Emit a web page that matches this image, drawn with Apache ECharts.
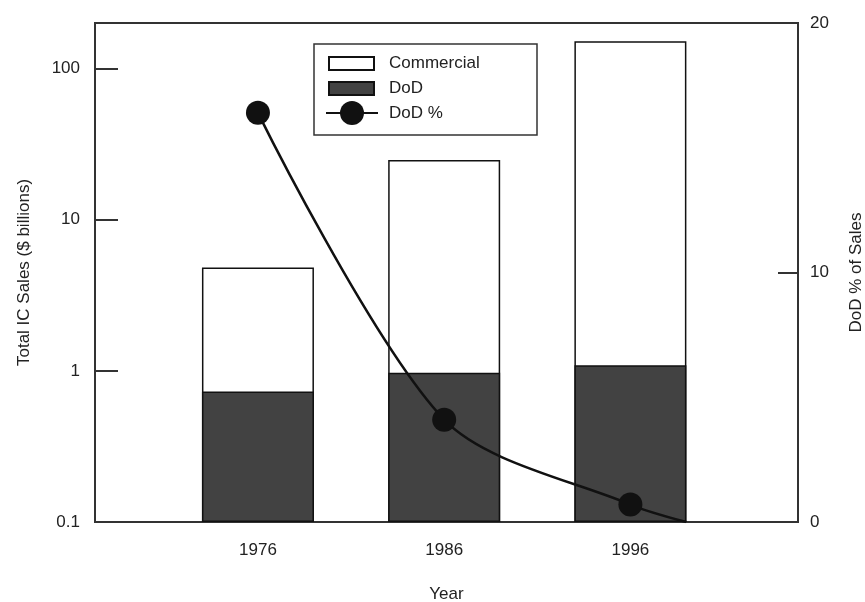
<!DOCTYPE html>
<html>
<head>
<meta charset="utf-8">
<script src="https://cdn.jsdelivr.net/npm/echarts@6/dist/echarts.min.js"></script>
<style>
  html, body { margin: 0; padding: 0; background: #fff; }
  #chart { width: 865px; height: 602px; }
</style>
</head>
<body>
<div id="chart"></div>
<script>
// Integrated-circuit sales, split into defence (DoD) and commercial parts ($ billions)
const years = [1976, 1986, 1996];
const dodSales = [0.73, 0.97, 1.09];
const commercialSales = [4.1, 23.8, 150.6];

// DoD share of total sales (%), the curve runs on past the last survey year down to zero
const shareYears = [1976, 1986, 1996, 1999];
const dodShare = [16.4, 4.1, 0.7, 0];
const shareMarkers = [true, true, true, false];

const xLabelValues = [1976, 1986, 1996];
const yLeftTicks = [0.1, 1, 10, 100];

const FONT = '"Liberation Sans", Arial, Helvetica, sans-serif';
const INK = '#222';
const AXIS = '#333';

const chart = echarts.init(document.getElementById('chart'));

// The white bar spans the whole total; the DoD part is painted over its lower end.
const totals = years.map((y, i) => [y, dodSales[i] + commercialSales[i]]);
const dodBars = years.map((y, i) => [y, dodSales[i]]);

chart.setOption({
  animation: false,
  backgroundColor: '#fff',
  textStyle: { fontFamily: FONT, color: INK },
  grid: {
    left: 95, right: 67, top: 23, bottom: 80,
    outerBoundsMode: 'none',
    containLabel: false,
    show: true, borderColor: AXIS, borderWidth: 2, backgroundColor: 'transparent'
  },
  graphic: [{
    type: 'rect',
    z: 5,
    shape: { x: 314, y: 44, width: 223, height: 91 },
    style: { fill: '#fff', stroke: AXIS, lineWidth: 1.5 }
  }],
  legend: [{
    data: [{ name: 'Commercial', icon: 'rect' }, { name: 'DoD', icon: 'rect' }],
    orient: 'vertical',
    left: 328, top: 55,
    padding: 0,
    itemWidth: 45, itemHeight: 13, itemGap: 8,
    z: 10,
    textStyle: { fontFamily: FONT, fontSize: 17, color: INK, padding: [0, 0, 0, 10] }
  }, {
    data: ['DoD %'],
    orient: 'vertical',
    left: 325, top: 101,
    padding: 0,
    itemWidth: 52, itemHeight: 30,
    z: 10,
    textStyle: { fontFamily: FONT, fontSize: 17, color: INK, padding: [0, 0, 0, 6] }
  }],
  xAxis: {
    type: 'value',
    min: 1967.25, max: 2005,
    name: 'Year',
    nameLocation: 'middle',
    nameGap: 64,
    nameTextStyle: { fontFamily: FONT, fontSize: 17, color: INK },
    axisLine: { show: true, lineStyle: { color: AXIS, width: 2 } },
    axisTick: { show: false },
    splitLine: { show: false },
    axisLabel: {
      customValues: xLabelValues,
      margin: 20,
      fontFamily: FONT, fontSize: 17, color: INK,
      formatter: v => String(v)
    }
  },
  yAxis: [{
    type: 'log',
    logBase: 10,
    min: 0.1, max: 200,
    startValue: 0.1,
    name: 'Total IC Sales ($ billions)',
    nameLocation: 'middle',
    nameRotate: 90,
    nameGap: 62,
    nameTextStyle: { fontFamily: FONT, fontSize: 17, color: INK },
    axisLine: { show: true, lineStyle: { color: AXIS, width: 2 } },
    axisTick: { show: true, inside: true, length: 23, lineStyle: { color: AXIS, width: 2 } },
    minorTick: { show: false },
    splitLine: { show: false },
    axisLabel: {
      margin: 15, fontFamily: FONT, fontSize: 17, color: INK,
      formatter: v => {
        const t = yLeftTicks.find(k => Math.abs(k - v) / k < 1e-6);
        return t === undefined ? '' : String(t);
      }
    }
  }, {
    type: 'value',
    min: 0, max: 20, interval: 10,
    position: 'right',
    name: 'DoD % of Sales',
    nameLocation: 'middle',
    nameRotate: 90,
    nameGap: 50,
    nameTextStyle: { fontFamily: FONT, fontSize: 17, color: INK },
    axisLine: { show: true, lineStyle: { color: AXIS, width: 2 } },
    axisTick: { show: true, inside: true, length: 20, lineStyle: { color: AXIS, width: 2 } },
    splitLine: { show: false },
    axisLabel: { margin: 12, fontFamily: FONT, fontSize: 17, color: INK }
  }],
  series: [{
    name: 'Commercial',
    type: 'bar',
    barWidth: 112,
    barGap: '-100%',
    data: totals,
    itemStyle: { color: '#fff', borderColor: '#111', borderWidth: 1.5 },
    z: 2
  }, {
    name: 'DoD',
    type: 'bar',
    barWidth: 112,
    barGap: '-100%',
    data: dodBars,
    itemStyle: { color: '#424242', borderColor: '#111', borderWidth: 1.5 },
    z: 3
  }, {
    name: 'DoD %',
    type: 'line',
    yAxisIndex: 1,
    smooth: 0.3,
    symbol: 'circle',
    symbolSize: 24,
    data: shareYears.map((x, i) => ({
      value: [x, dodShare[i]],
      symbol: shareMarkers[i] ? 'circle' : 'none'
    })),
    lineStyle: { color: '#111', width: 2.5 },
    itemStyle: { color: '#111' },
    z: 4
  }]
});
</script>
</body>
</html>
